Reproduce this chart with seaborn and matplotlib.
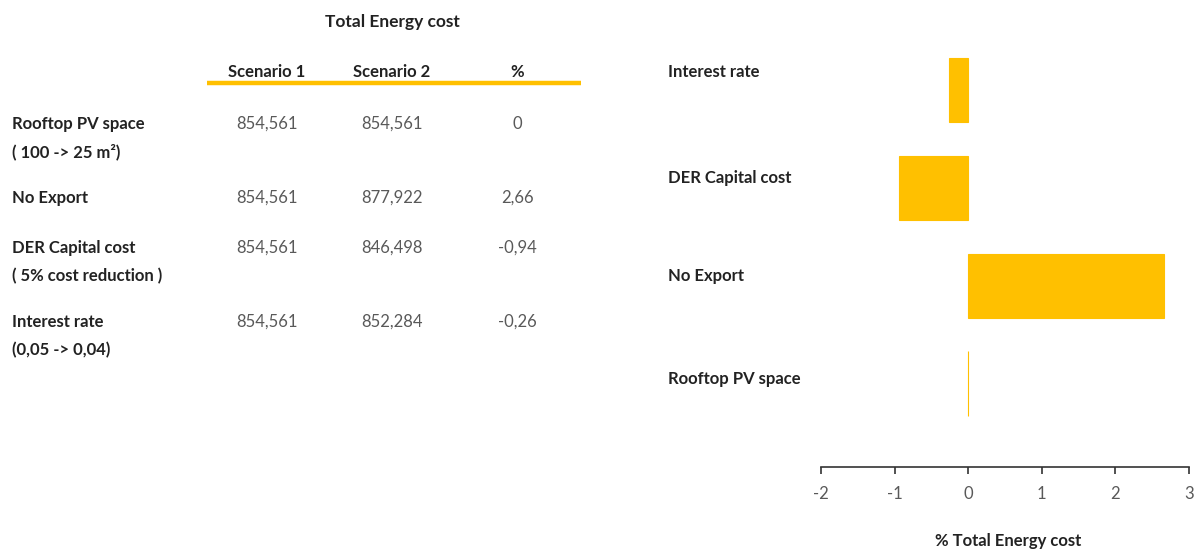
import matplotlib
matplotlib.use("Agg")
import matplotlib.pyplot as plt
from matplotlib.lines import Line2D
import seaborn as sns
import pandas as pd

# Sensitivity cases (table order) and their results
cases = ["Rooftop PV space", "No Export", "DER Capital cost", "Interest rate"]
case_notes = ["( 100 -> 25 m²)", "", "( 5% cost reduction )", "(0,05 -> 0,04)"]
scenario_1 = ["854,561", "854,561", "854,561", "854,561"]
scenario_2 = ["854,561", "877,922", "846,498", "852,284"]
pct_change = [0.0, 2.66, -0.94, -0.26]
pct_labels = ["0", "2,66", "-0,94", "-0,26"]

bar_order = ["Interest rate", "DER Capital cost", "No Export", "Rooftop PV space"]
x_ticks = [-2, -1, 0, 1, 2, 3]

GOLD = "#FFC000"
DARK = "#222222"
GREY = "#595959"
FS = 12

sns.set_theme(style="white")
plt.rcParams["font.family"] = ["Lato", "DejaVu Sans"]

W, H = 1196, 551
fig = plt.figure(figsize=(W / 100, H / 100), dpi=100)


def fx(px):
    return px / W


def fy(py):
    return 1 - py / H


# ---- table on the left ----
fig.text(fx(392), fy(22), "Total Energy cost", ha="center", va="center",
         fontsize=12.5, fontweight="bold", color=DARK)
for label, cx in zip(["Scenario 1", "Scenario 2", "%"], [267, 392, 517]):
    fig.text(fx(cx), fy(72), label, ha="center", va="center",
             fontsize=FS, fontweight="bold", color=DARK)
fig.add_artist(Line2D([fx(207), fx(581)], [fy(83), fy(83)],
                      transform=fig.transFigure, color=GOLD, lw=3.2,
                      solid_capstyle="butt"))

row_y = [124, 198, 248, 322]
for name, note, s1, s2, p, ry in zip(cases, case_notes, scenario_1,
                                     scenario_2, pct_labels, row_y):
    fig.text(fx(12), fy(ry), name, ha="left", va="center",
             fontsize=FS, fontweight="bold", color=DARK)
    if note:
        fig.text(fx(12), fy(ry + 28), note, ha="left", va="center",
                 fontsize=FS, fontweight="bold", color=DARK)
    fig.text(fx(267), fy(ry), s1, ha="center", va="center",
             fontsize=FS, color=GREY)
    fig.text(fx(392), fy(ry), s2, ha="center", va="center",
             fontsize=FS, color=GREY)
    fig.text(fx(517), fy(ry), p, ha="center", va="center",
             fontsize=FS, color=GREY)

# ---- bar chart on the right ----
ax = fig.add_axes([fx(821), fy(467), fx(1189) - fx(821), fy(41) - fy(467)])
df = pd.DataFrame({"case": cases, "pct": pct_change})
sns.barplot(data=df, x="pct", y="case", order=bar_order, orient="h",
            color=GOLD, width=0.66, saturation=1, edgecolor=GOLD,
            linewidth=0.8, ax=ax)

ax.set_xlim(-2, 3)
ax.set_ylim(3.85, -0.5)
ax.set_xticks(x_ticks)
ax.set_xticklabels([str(t) for t in x_ticks], fontsize=FS, color=GREY)
ax.set_yticks([])
ax.set_ylabel("")
ax.set_xlabel("")
for side in ["left", "top", "right"]:
    ax.spines[side].set_visible(False)
ax.spines["bottom"].set_color("#333333")
ax.spines["bottom"].set_linewidth(1.2)
ax.tick_params(axis="x", direction="out", length=5, width=1.2,
               color="#333333", bottom=True, pad=9)
ax.patch.set_alpha(0)

fig.text(fx(1008), fy(541), "% Total Energy cost", ha="center", va="center",
         fontsize=FS, fontweight="bold", color=DARK)

# category names to the left of the bars
label_y = [72, 178, 276, 379]
for name, ly in zip(bar_order, label_y):
    fig.text(fx(668), fy(ly), name, ha="left", va="center",
             fontsize=FS, fontweight="bold", color=DARK)

fig.savefig("out.png", dpi=100, facecolor="white")
